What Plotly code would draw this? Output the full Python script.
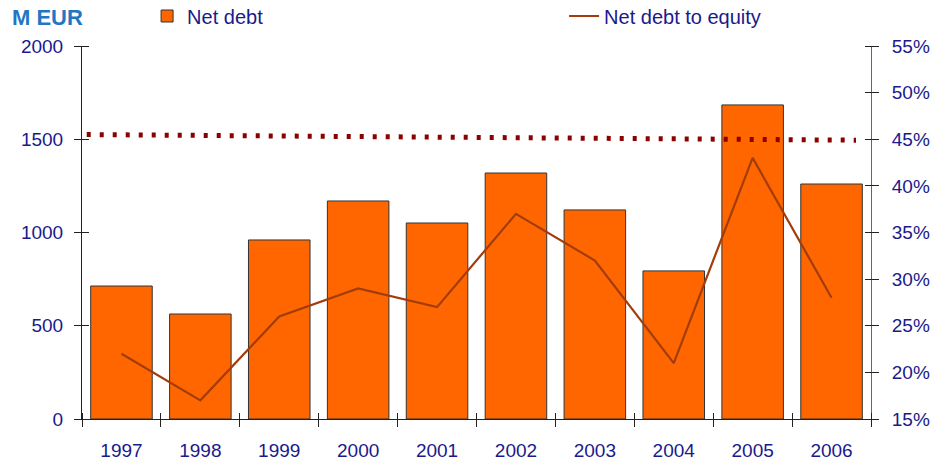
import plotly.graph_objects as go

years = ["1997", "1998", "1999", "2000", "2001", "2002", "2003", "2004", "2005", "2006"]
net_debt = [713, 563, 960, 1169, 1051, 1319, 1121, 794, 1684, 1260]
debt_to_equity = [22.0, 17.0, 26.0, 29.0, 27.0, 37.0, 32.0, 21.0, 43.0, 28.0]
ref_x = [-0.44, 9.31]
ref_y = [45.5, 44.9]
left_ticks = [0, 500, 1000, 1500, 2000]
right_ticks = [15, 20, 25, 30, 35, 40, 45, 50, 55]

NAVY = "#1a1a8c"
FONT = "Liberation Sans, Arial, sans-serif"
TL = 7  # tick half-length (ticks cross the axis line)
XR = [-0.5, len(years) - 0.5]

fig = go.Figure()
fig.add_trace(go.Bar(
    x=years, y=net_debt, name="Net debt",
    marker=dict(color="#ff6600", line=dict(color="#333333", width=1)),
    legend="legend",
))
fig.add_trace(go.Scatter(
    x=years, y=debt_to_equity, name="Net debt to equity", mode="lines",
    line=dict(color="#a33c0c", width=2.2), yaxis="y2", legend="legend2",
))
fig.add_trace(go.Scatter(
    x=ref_x, y=ref_y, mode="lines", showlegend=False,
    line=dict(color="#8b0000", width=5, dash="4px,9px"),
    xaxis="x2", yaxis="y2", hoverinfo="skip",
))
# invisible helper traces so the tick-only axes (inner half of crossing ticks) render
hidden = dict(mode="markers", marker=dict(opacity=0), showlegend=False, hoverinfo="skip")
fig.add_trace(go.Scatter(x=years, y=net_debt, xaxis="x", yaxis="y3", **hidden))
fig.add_trace(go.Scatter(x=years, y=debt_to_equity, xaxis="x", yaxis="y4", **hidden))
fig.add_trace(go.Scatter(x=years, y=net_debt, xaxis="x3", yaxis="y", **hidden))

W, H = 930, 464
ml, mr, mt, mb = 82, 59, 46, 45
pw, ph = W - ml - mr, H - mt - mb

tickfont = dict(family=FONT, size=19, color=NAVY)
fig.update_layout(
    width=W, height=H,
    margin=dict(l=ml, r=mr, t=mt, b=mb, autoexpand=False),
    paper_bgcolor="white", plot_bgcolor="white",
    bargap=0.22,
    font=dict(family=FONT, color=NAVY),
    xaxis=dict(type="category", range=XR, tickson="boundaries", ticks="outside", ticklen=TL,
               tickcolor="#222", showline=True, linecolor="#222", linewidth=1,
               showgrid=False, tickfont=tickfont, ticklabelstandoff=14),
    xaxis2=dict(overlaying="x", range=XR, visible=False),
    xaxis3=dict(overlaying="x", type="category", categoryorder="array", categoryarray=years,
                range=XR, tickson="boundaries", ticks="outside", ticklen=TL,
                anchor="free", position=TL / ph,
                tickcolor="#222", showticklabels=False, showgrid=False, showline=False),
    yaxis=dict(range=[0, 2000], tickvals=left_ticks, ticks="outside",
               ticklen=TL, tickcolor="#222", showline=True, linecolor="#222",
               linewidth=1, showgrid=False, zeroline=False, tickfont=tickfont,
               ticklabelstandoff=7),
    yaxis2=dict(overlaying="y", side="right", range=[15, 55],
                tickvals=right_ticks,
                ticktext=[f"{v}%" for v in right_ticks],
                ticks="outside", ticklen=TL, tickcolor="#222", showline=True,
                linecolor="#666", linewidth=1, showgrid=False, zeroline=False,
                tickfont=tickfont, ticklabelstandoff=9),
    yaxis3=dict(overlaying="y", range=[0, 2000], tickvals=left_ticks,
                anchor="free", position=TL / pw,
                ticks="outside", ticklen=TL, tickcolor="#222", showticklabels=False,
                showgrid=False, zeroline=False, showline=False),
    yaxis4=dict(overlaying="y", side="right", range=[15, 55], tickvals=right_ticks,
                anchor="free", position=1 - TL / pw,
                ticks="outside", ticklen=TL, tickcolor="#222", showticklabels=False,
                showgrid=False, zeroline=False, showline=False),
    legend=dict(x=0.0825, y=(ph + mt - 16) / ph, xanchor="left", yanchor="middle",
                font=dict(family=FONT, size=20, color=NAVY), bgcolor="rgba(0,0,0,0)"),
    legend2=dict(x=0.611, y=(ph + mt - 16) / ph, xanchor="left", yanchor="middle",
                 font=dict(family=FONT, size=20, color=NAVY), bgcolor="rgba(0,0,0,0)"),
    annotations=[dict(text="<b>M EUR</b>", xref="paper", yref="paper",
                      x=-72 / pw, y=(ph + mt - 18) / ph, xanchor="left", yanchor="middle",
                      showarrow=False, font=dict(family=FONT, size=22, color="#1f78c1"))],
    showlegend=True,
)

fig.write_html("out.html")
